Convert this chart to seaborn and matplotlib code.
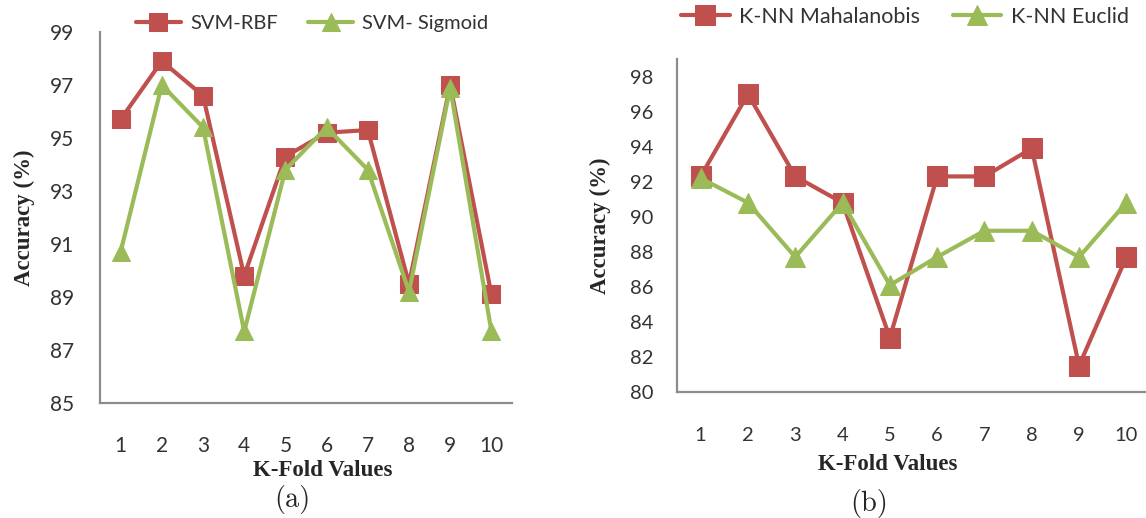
import numpy as np
import pandas as pd
import seaborn as sns
import matplotlib.pyplot as plt
from matplotlib.ticker import FixedLocator

# ---------------------------------------------------------------- data
folds = [1, 2, 3, 4, 5, 6, 7, 8, 9, 10]
svm_rbf = [95.7, 97.9, 96.6, 89.8, 94.3, 95.2, 95.3, 89.5, 97.0, 89.1]
svm_sigmoid = [90.7, 97.0, 95.4, 87.7, 93.8, 95.4, 93.8, 89.2, 96.9, 87.7]
knn_mahalanobis = [92.3, 97.0, 92.3, 90.8, 83.1, 92.3, 92.3, 93.9, 81.5, 87.7]
knn_euclid = [92.2, 90.8, 87.7, 90.8, 86.1, 87.7, 89.2, 89.2, 87.7, 90.8]

RED = "#C0504D"
GREEN = "#9BBB59"
AXIS_GRAY = "#8C8C8C"
TEXT_GRAY = "#333333"

sns.set_theme(style="white")
plt.rcParams["font.family"] = ["Lato", "DejaVu Sans"]

W, H = 1146, 518
fig = plt.figure(figsize=(W / 100, H / 100), dpi=100)
ax_a = fig.add_axes([100 / W, 1 - 403 / H, 412 / W, 371 / H])
ax_b = fig.add_axes([677 / W, 1 - 392 / H, 473 / W, 333 / H])


def draw_panel(ax, series, ylim, cfg):
    for label, vals, color, marker in series:
        df = pd.DataFrame({"fold": folds, "acc": vals})
        sns.lineplot(data=df, x="fold", y="acc", ax=ax, color=color, marker=marker,
                     markersize=cfg["mk"], markeredgecolor=color, linewidth=3.0,
                     label=label)

    ax.set_xlim(0.5, 10.5)
    ax.set_ylim(*ylim)
    ax.set_yticks(np.arange(ylim[0], ylim[1] + 0.1, 2))
    ax.set_xticks(folds)
    ax.set_xticklabels([str(f) for f in folds])
    ax.xaxis.set_minor_locator(FixedLocator(np.arange(0.5, 11, 1)))

    for side in ["top", "right"]:
        ax.spines[side].set_visible(False)
    for side in ["left", "bottom"]:
        ax.spines[side].set_color(AXIS_GRAY)
        ax.spines[side].set_linewidth(1.6)

    ax.tick_params(axis="x", which="major", length=0, pad=cfg["xpad"],
                   labelsize=cfg["tick_fs"], labelcolor=TEXT_GRAY)
    ax.tick_params(axis="x", which="minor", length=cfg["xtick_len"], width=1.4,
                   color=AXIS_GRAY, direction="out")
    ax.tick_params(axis="y", which="major", length=cfg["ytick_len"], width=1.4,
                   color=AXIS_GRAY, direction=cfg["ydir"], pad=cfg["ypad"],
                   labelsize=cfg["tick_fs"], labelcolor=TEXT_GRAY)

    ax.set_xlabel("K-Fold Values", fontfamily="Liberation Serif", fontweight="bold",
                  fontsize=16.5, labelpad=cfg["xlabelpad"], x=cfg["xlabel_x"])
    ax.set_ylabel("Accuracy (%)", fontfamily="Liberation Serif", fontweight="bold",
                  fontsize=16.5, labelpad=cfg["ylabelpad"])

    handles, labels = ax.get_legend_handles_labels()
    ax.get_legend().remove()
    fig.legend(handles, labels, loc="center", bbox_to_anchor=cfg["leg_xy"], ncol=2,
               frameon=False, fontsize=cfg["leg_fs"], handlelength=2.25,
               columnspacing=1.5, handletextpad=0.45, labelcolor=TEXT_GRAY)


draw_panel(ax_a,
           [("SVM-RBF", svm_rbf, RED, "s"), ("SVM- Sigmoid", svm_sigmoid, GREEN, "^")],
           (85, 99),
           dict(mk=13, tick_fs=15, xpad=24, ypad=13, ydir="inout", ytick_len=11,
                xtick_len=6, xlabelpad=3, xlabel_x=0.541, ylabelpad=11, leg_fs=14.5,
                leg_xy=(312 / W, 1 - 23 / H)))
draw_panel(ax_b,
           [("K-NN Mahalanobis", knn_mahalanobis, RED, "s"), ("K-NN Euclid", knn_euclid, GREEN, "^")],
           (80, 99),
           dict(mk=14, tick_fs=14.5, xpad=25, ypad=11, ydir="out", ytick_len=6,
                xtick_len=4.5, xlabelpad=7.5, xlabel_x=0.446, ylabelpad=13.5, leg_fs=15.5,
                leg_xy=(905 / W, 1 - 17 / H)))

fig.text(292 / W, 1 - 500 / H, "(a)", fontfamily="cmr10", fontsize=20.5, ha="center", va="center")
fig.text(869 / W, 1 - 504 / H, "(b)", fontfamily="cmr10", fontsize=20.5, ha="center", va="center")

fig.savefig("out.png", dpi=100)
plt.close(fig)
